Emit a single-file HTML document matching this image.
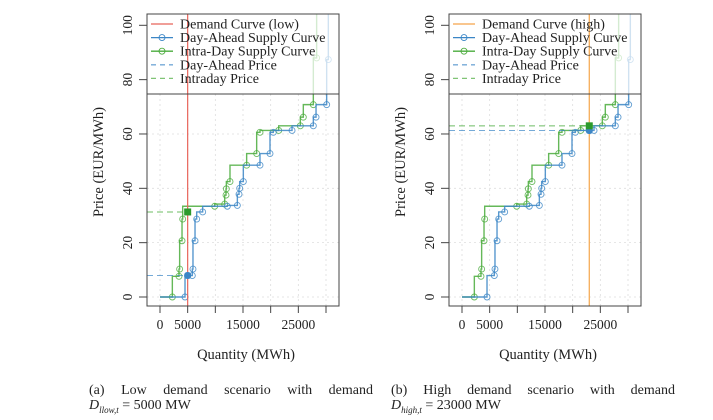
<!DOCTYPE html>
<html><head><meta charset="utf-8"><style>
html,body{margin:0;padding:0;background:#fff;}
svg{display:block;font-family:"Liberation Serif",serif;}
.cap{position:absolute;font-family:"Liberation Serif",serif;font-size:14px;color:#222;width:284px;text-align:justify;text-align-last:justify;line-height:15px;}
</style></head><body>
<div style="position:relative;width:713px;height:420px;">
<svg id="chart" width="713" height="420"></svg>
<div class="cap" style="left:89px;top:383px;">(a) Low demand scenario with demand</div>
<div class="cap" style="left:89px;top:398px;text-align-last:left;"><i>D<sub style="font-size:9px">llow,t</sub></i> = 5000 MW</div>
<div class="cap" style="left:391px;top:383px;">(b) High demand scenario with demand</div>
<div class="cap" style="left:391px;top:398px;text-align-last:left;"><i>D<sub style="font-size:9px">high,t</sub></i> = 23000 MW</div>
</div>
<script>
const daQ=[4520,5840,5960,6330,6630,7710,12170,13980,14280,14400,15060,18070,19880,20480,23860,27710,28200,30120,30420];
const daP=[0,7.9,10.3,20.7,28.7,31.3,33.4,33.7,37.8,40,42.5,48.5,52.8,60.6,61.3,63,66.2,70.8,87.4];
const idQ=[2230,3430,3550,3980,4100,9880,11690,11930,11990,12650,15660,17470,18070,21450,25360,25900,27710,28310];
const idP=[0,7.6,10.3,20.7,28.7,33.4,34.2,37.5,39.8,42.5,48.5,52.8,60.6,61.3,63,66.2,70.8,88];
const demands=[5000,23000];
const daPrices=[7.9,61.3];
const idPrices=[31.3,63];
const xTicks=[0,5000,10000,15000,20000,25000,30000];
const xLabels=["0","5000","","15000","","25000",""];
const yTicks=[0,20,40,60,80,100];
const legendLabels=[["Demand Curve (low)","Day-Ahead Supply Curve","Intra-Day Supply Curve","Day-Ahead Price","Intraday Price"],["Demand Curve (high)","Day-Ahead Supply Curve","Intra-Day Supply Curve","Day-Ahead Price","Intraday Price"]];
const demandColors=["#e8645a","#f5a54a"];
const BLUE="#3b86c6",GREEN="#4aab3c";
const svg=document.getElementById('chart');
const NS="http://www.w3.org/2000/svg";
function mk(tag,attrs,parent){const e=document.createElementNS(NS,tag);for(const k in attrs)e.setAttribute(k,attrs[k]);(parent||svg).appendChild(e);return e;}
for(let p=0;p<2;p++){
  const off=p*302;
  const g=mk('g',{});
  
  
  const L=147+off,R=339+off,T=14,B=306;
  const X=q=>160+off+q*(166/30000);
  const Y=v=>297-v*2.717;
  xTicks.forEach(t=>{const l=mk('line',{x1:X(t),x2:X(t),y1:94,y2:B,stroke:'#ddd','stroke-dasharray':'2,3','stroke-width':0.8},g);});
  yTicks.filter(t=>Y(t)>94).forEach(t=>{const l=mk('line',{x1:L,x2:R,y1:Y(t),y2:Y(t),stroke:'#ddd','stroke-dasharray':'2,3','stroke-width':0.8},g);});
  function curve(Q,P,col,name){
    let d=`M${X(0)},${Y(P[0])}`;
    for(let i=0;i<Q.length;i++){d+=` L${X(Q[i])},${Y(P[i])}`;if(i<Q.length-1)d+=` L${X(Q[i])},${Y(P[i+1])}`;}
    d+=` L${X(Q[Q.length-1])},${T}`;
    const pa=mk('path',{d:d,fill:'none',stroke:col,'stroke-width':1.4,'stroke-opacity':0.85},g);
    
    for(let i=0;i<Q.length;i++){const c=mk('circle',{cx:X(Q[i]),cy:Y(P[i]),r:3,fill:'none',stroke:col,'stroke-width':0.9,'stroke-opacity':0.8},g);
      }
  }
  curve(idQ,idP,GREEN,'intraday-supply');
  curve(daQ,daP,BLUE,'day-ahead-supply');
  const lg=mk('rect',{x:L,y:T,width:R-L,height:80,fill:'#fff','fill-opacity':0.72},g);
  
  const dl=mk('line',{x1:X(demands[p]),x2:X(demands[p]),y1:T,y2:B,stroke:demandColors[p],'stroke-width':1.2},g);
  
  const pl1=mk('line',{x1:L,x2:X(demands[p]),y1:Y(daPrices[p]),y2:Y(daPrices[p]),stroke:BLUE,'stroke-width':1,'stroke-dasharray':'6,4','stroke-opacity':0.7},g);
  
  const pl2=mk('line',{x1:L,x2:X(demands[p]),y1:Y(idPrices[p]),y2:Y(idPrices[p]),stroke:GREEN,'stroke-width':1,'stroke-dasharray':'6,4','stroke-opacity':0.8},g);
  
  const m1=mk('rect',{x:X(demands[p])-3.5,y:Y(daPrices[p])-3.5,width:7,height:7,fill:BLUE,rx:3},g);
  
  const m2=mk('rect',{x:X(demands[p])-3.5,y:Y(idPrices[p])-3.5,width:7,height:7,fill:'#2c9a2c'},g);
  
  const lgl=mk('line',{x1:L,x2:R,y1:94,y2:94,stroke:'#444','stroke-width':1},g);
  
  const lcol=[demandColors[p],BLUE,GREEN,BLUE,GREEN];
  legendLabels[p].forEach((s,i)=>{
    const y=24+i*13.6;
    const ln=mk('line',{x1:L+4,x2:L+26,y1:y,y2:y,stroke:lcol[i],'stroke-width':1.3,'stroke-dasharray':i>=3?'5,4':'none','stroke-opacity':i>=3?0.7:1},g);
    
    if(i==1||i==2){mk('circle',{cx:L+15,cy:y,r:3,fill:'none',stroke:lcol[i],'stroke-width':0.9},g);}
    const t=mk('text',{x:L+33,y:y+4.5,'font-size':14,fill:'#222'},g);t.textContent=s;
    
  });
  mk('rect',{x:L,y:T,width:R-L,height:B-T,fill:'none',stroke:'#444','stroke-width':1},g);
  xTicks.forEach((t,i)=>{mk('line',{x1:X(t),x2:X(t),y1:B,y2:B+7,stroke:'#444'},g);
    if(xLabels[i]){const tx=mk('text',{x:X(t),y:329,'font-size':13.5,'text-anchor':'middle',fill:'#222'},g);tx.textContent=xLabels[i];
    }});
  yTicks.forEach(t=>{mk('line',{x1:L-8,x2:L,y1:Y(t),y2:Y(t),stroke:'#444'},g);
    const tx=mk('text',{x:0,y:0,'font-size':13.5,'text-anchor':'middle',fill:'#222',transform:`translate(${L-15},${Y(t)}) rotate(-90)`},g);tx.textContent=t;
    });
  const xt=mk('text',{x:246+off,y:359,'font-size':14.5,'text-anchor':'middle',fill:'#222'},g);xt.textContent='Quantity (MWh)';
  
  const yt=mk('text',{x:0,y:0,'font-size':14.5,'text-anchor':'middle',fill:'#222',transform:`translate(${103+off},162) rotate(-90)`},g);yt.textContent='Price (EUR/MWh)';
  
}
</script>
</body></html>
